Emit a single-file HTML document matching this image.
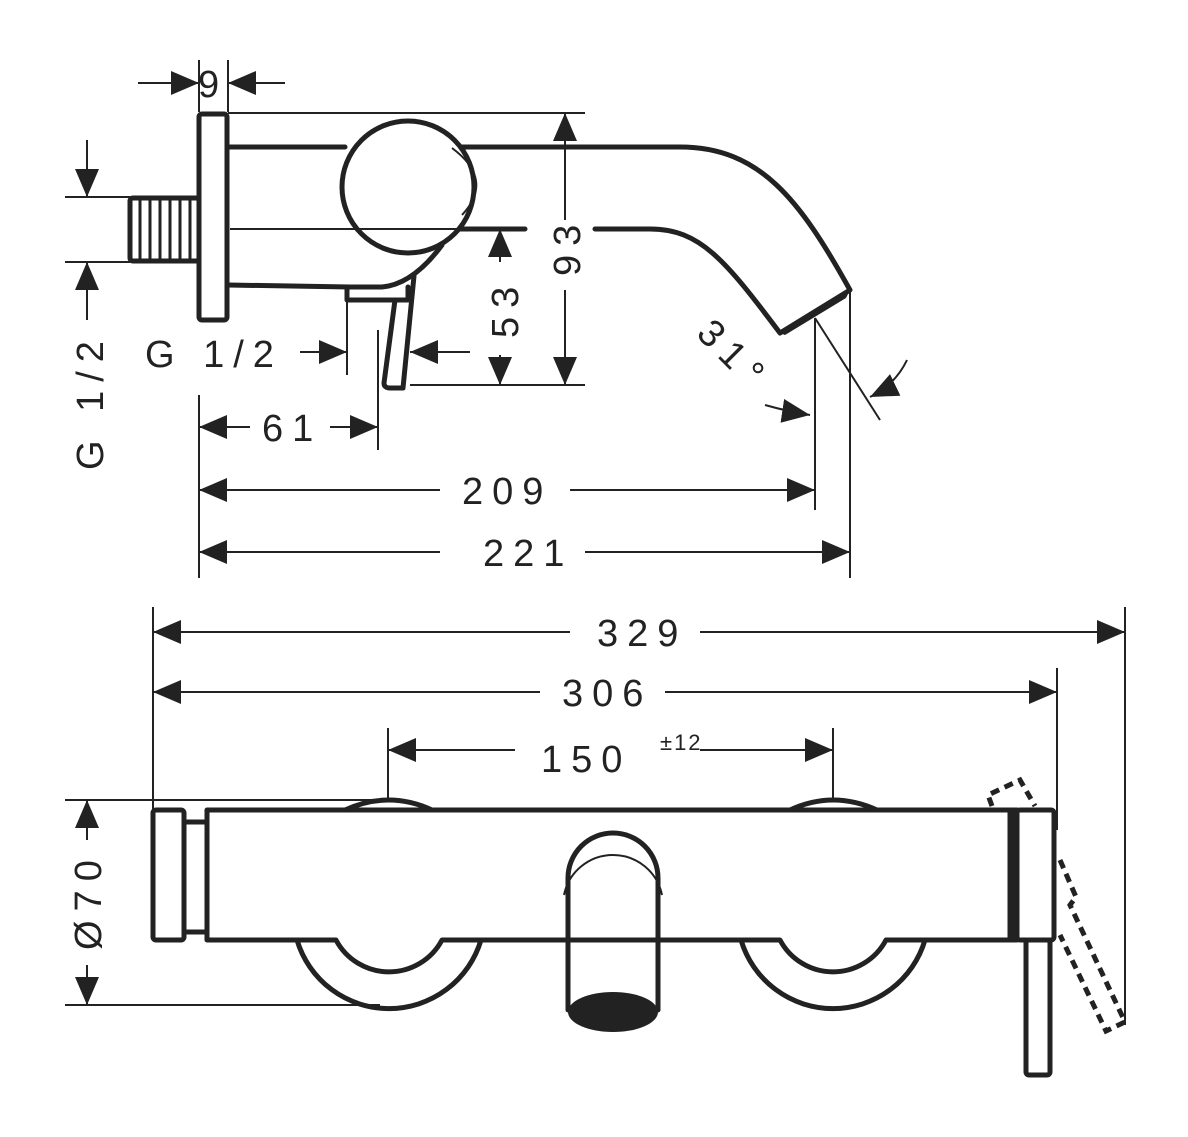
<!DOCTYPE html>
<html><head><meta charset="utf-8"><style>html,body{margin:0;padding:0;background:#fff}svg{display:block}text{font-family:"Liberation Sans",sans-serif;font-size:38px;fill:#222;letter-spacing:9px}</style></head><body>
<svg width="1188" height="1137" viewBox="0 0 1188 1137" xmlns="http://www.w3.org/2000/svg">
<defs><marker id="a" viewBox="0 0 28 24" refX="28" refY="12" markerWidth="28" markerHeight="24" markerUnits="userSpaceOnUse" orient="auto"><path d="M0,0L28,12L0,24z" fill="#222"/></marker></defs>
<g stroke="#222" fill="none" stroke-width="2">
<path d="M199,60V112M228,60V112M228,113H585M230,229H525M410,385H585M65,197H130M65,262H130M347,298V375M378,330V450M815,318V510M850,290V578M199,395V578M153,607V940M1125,607V1025M1057,668V830M388,728V800M833,728V800M65,800H390M65,1005H380"/>
<g marker-end="url(#a)">
<path d="M138,83H199"/><path d="M285,83H228"/>
<path d="M565,220V113"/><path d="M565,290V385"/>
<path d="M500,262V229"/><path d="M500,355V385"/>
<path d="M87,140V197"/><path d="M87,320V262"/>
<path d="M300,352H347"/><path d="M470,352H410"/>
<path d="M250,427H199"/><path d="M330,427H378"/>
<path d="M440,490H199"/><path d="M570,490H815"/>
<path d="M440,552H199"/><path d="M585,552H850"/>
<path d="M570,632H153"/><path d="M700,632H1125"/>
<path d="M540,692H153"/><path d="M665,692H1057"/>
<path d="M515,750H388"/><path d="M700,750H833"/>
<path d="M87,840V800"/><path d="M87,965V1005"/>
<path d="M765,405Q790,412 810,415"/>
<path d="M907,360Q895,385 870,397"/>
</g>
<path d="M815,318L880,420"/>
</g>
<g stroke="#222" fill="none" stroke-width="5" stroke-linejoin="round" stroke-linecap="round">
<rect x="199" y="114" width="28" height="206" rx="3"/>
<rect x="130" y="198" width="69" height="63" rx="3"/>
<path d="M228,147H345M462,147H680C760,147 800,200 850,290L780,333C725,260 700,229 650,229H595M460,229H525M228,285L350,287H382C405,285 425,268 442,245"/>
<circle cx="408" cy="187" r="66"/>
<path d="M347,287V300H408V287M395,300L384,383Q384,388 390,388L403,388L414,276"/>
<rect x="153" y="810" width="31" height="130" rx="3"/>
<rect x="184" y="822" width="23" height="110"/>
<path d="M336,940H207V810H1012V940H886M336,940A60,60 0 0 0 442,940H780A60,60 0 0 0 886,940"/>
<path d="M297,940A96,96 0 0 0 481,940M741,940A96,96 0 0 0 925,940"/>
<path d="M345,810Q389,790 432,810M790,810Q833,790 877,810"/>
<path d="M568,1010V878A45,45 0 0 1 658,878V1010"/>
<rect x="1010" y="810" width="7" height="130"/>
<rect x="1017" y="810" width="37" height="130" rx="3"/>
<rect x="1026" y="940" width="24" height="135" rx="3"/>
</g>
<g stroke="#222" fill="none" stroke-width="2">
<path d="M452,148Q495,180 462,215M564,895A50,50 0 0 1 662,895"/>
<path d="M140,200V261M150,200V261M160,200V261M170,200V261M180,200V261M190,200V261" stroke-width="3"/>
</g>
<ellipse cx="613" cy="1012" rx="45" ry="20" fill="#222"/>
<path d="M780,333L850,290L846,298L785,335Z" fill="#222"/>
<g stroke="#222" fill="none" stroke-width="5" stroke-dasharray="9,6">
<path d="M992,806L988,795L1020,780L1035,806M1060,860L1076,897L1070,905L1125,1022L1106,1031L1060,935"/>
</g>
<text x="198" y="97" style="letter-spacing:0">9</text>
<text x="145" y="367">G 1/2</text>
<text x="262" y="441">61</text>
<text x="462" y="504">209</text>
<text x="483" y="566">221</text>
<text x="597" y="646">329</text>
<text x="562" y="706">306</text>
<text x="541" y="772">150</text><text x="660" y="750" style="font-size:22px;letter-spacing:2px">±12</text>
<text transform="translate(103,470) rotate(-90)">G 1/2</text>
<text transform="translate(101,950) rotate(-90)">Ø70</text>
<text transform="translate(518,338) rotate(-90)">53</text>
<text transform="translate(580,276) rotate(-90)">93</text>
<text transform="translate(695,335) rotate(45)">31°</text>
</svg>
</body></html>
